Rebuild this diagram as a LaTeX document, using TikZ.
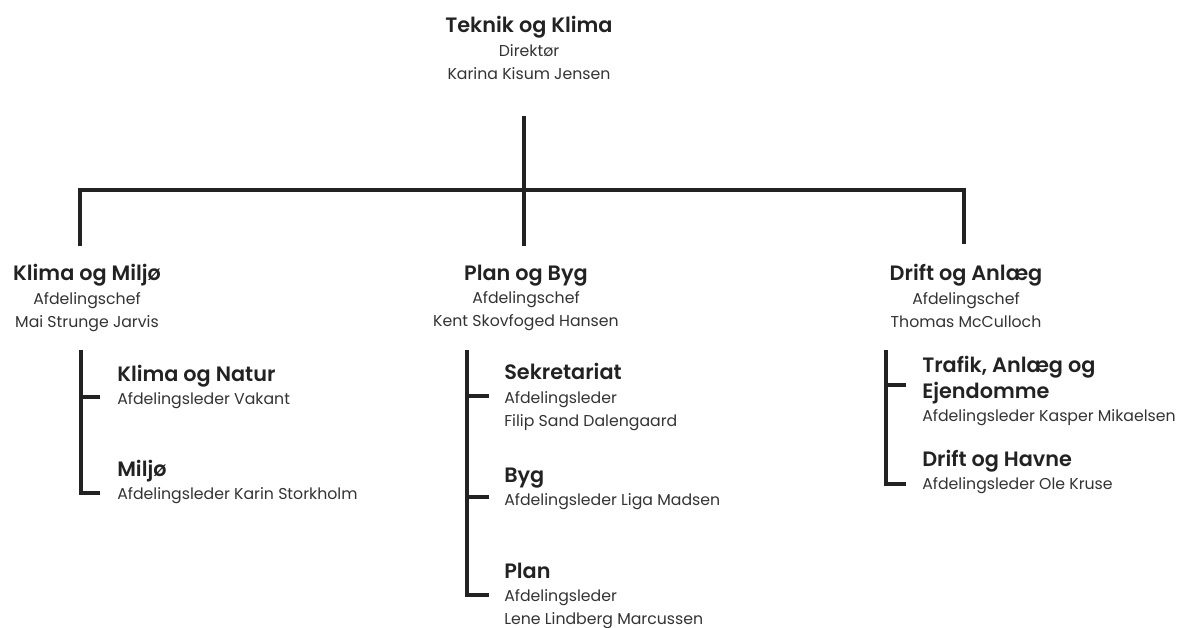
\documentclass[tikz,border=0pt]{standalone}
\usepackage{fontspec}
\setmainfont{Poppins}[BoldFont={Poppins SemiBold}]
\usetikzlibrary{positioning}
\definecolor{orgink}{RGB}{34,34,34}
\definecolor{orgtext}{RGB}{51,51,51}
\tikzset{
x=0.75pt, y=-0.75pt, % one unit is one pixel of the reference
every node/.style={inner sep=0pt, text=orgtext, font=\fontsize{11.8}{17.5}\selectfont},
chief/.style={align=center}, % the heads of the departments
leader/.style={align=left, anchor=west}, % the units below them
branch/.style={draw=orgink, line width=2.3pt},
}
\newcommand{\unitname}[1]{{\fontsize{15.6}{18}\selectfont\bfseries\color{orgink}#1}}

\begin{document}
\begin{tikzpicture}
      \useasboundingbox (0,0) rectangle (1185,628);

      \node[chief] (dir) at (529,48) {\unitname{Teknik og Klima}\\Direktør\\Karina Kisum Jensen};
      \node[chief] (km) at (87,298) {\unitname{Klima og Miljø}\\Afdelingschef\\Mai Strunge Jarvis};
      \node[chief] (pb) at (526,298) {\unitname{Plan og Byg}\\Afdelingschef\\Kent Skovfoged Hansen};
      \node[chief] (da) at (966,296) {\unitname{Drift og Anlæg}\\Afdelingschef\\Thomas McCulloch};

      \node[leader] (natur) at (117,387) {\unitname{Klima og Natur}\\Afdelingsleder Vakant};
      \node[leader] (miljo) at (117,482) {\unitname{Miljø}\\Afdelingsleder Karin Storkholm};
      \node[leader] (sekr) at (504,397) {\unitname{Sekretariat}\\Afdelingsleder\\Filip Sand Dalengaard};
      \node[leader] (byg) at (504,489) {\unitname{Byg}\\Afdelingsleder Liga Madsen};
      \node[leader] (plan) at (504,596) {\unitname{Plan}\\Afdelingsleder\\Lene Lindberg Marcussen};
      \node[leader] (trafik) at (922,391) {\unitname{Trafik, Anlæg og}\\[2pt]\unitname{Ejendomme}\\Afdelingsleder Kasper Mikaelsen};
      \node[leader] (havne) at (922,472) {\unitname{Drift og Havne}\\Afdelingsleder Ole Kruse};

      \coordinate (dirfoot) at (524,116);
      \coordinate (kmtop) at (80,246);
      \coordinate (pbtop) at (524,246);
      \coordinate (datop) at (964,244);
      \coordinate (bus) at (80,190);
      \coordinate (kmspine) at (81,350);
      \coordinate (pbspine) at (467,350);
      \coordinate (daspine) at (886,350);

      \draw[branch] (dirfoot) -- (pbtop);
      \draw[branch] (kmtop) -- (bus) -| (datop);

      \draw[branch] (kmspine) |- (100,493);
      \draw[branch] (81,397) -- (100,397);
      \draw[branch] (pbspine) |- (489,595);
      \draw[branch] (467,396) -- (489,396);
      \draw[branch] (467,497) -- (489,497);
      \draw[branch] (daspine) |- (906,484);
      \draw[branch] (886,385) -- (906,385);
    \end{tikzpicture}
\end{document}
